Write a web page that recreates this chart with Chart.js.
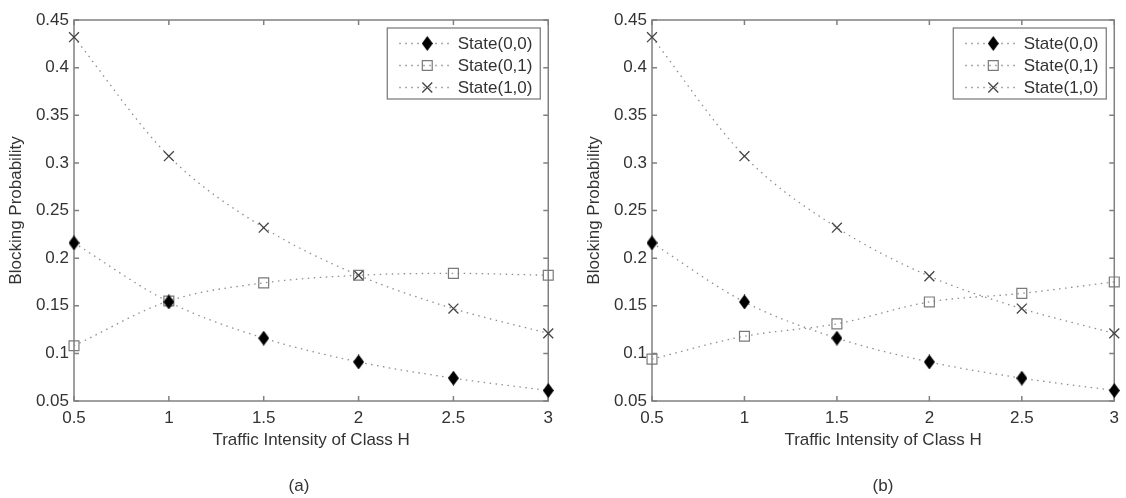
<!DOCTYPE html>
<html>
<head>
<meta charset="utf-8">
<script src="https://cdn.jsdelivr.net/npm/chart.js@4.4.1/dist/chart.umd.min.js"></script>
<style>
  html, body { margin: 0; padding: 0; background: #ffffff; }
  body { width: 1126px; height: 498px; position: relative; overflow: hidden; font-family: "Liberation Sans", Arial, sans-serif; }
  .panel { position: absolute; top: 0; }
  .cap { position: absolute; width: 100px; text-align: center; font-size: 17px; line-height: 20px; color: #333; }
</style>
</head>
<body>
<div class="panel" style="left:0px"><canvas id="chartA" width="560" height="498"></canvas></div>
<div class="panel" style="left:560px"><canvas id="chartB" width="566" height="498"></canvas></div>
<div class="cap" style="left:249px; top:476px;">(a)</div>
<div class="cap" style="left:833px; top:476px;">(b)</div>
<script>
// ---------- data ----------
const xValues = [0.5, 1, 1.5, 2, 2.5, 3];
const xTicks = [0.5, 1, 1.5, 2, 2.5, 3];
const xTickLabels = ['0.5', '1', '1.5', '2', '2.5', '3'];
const yTicks = [0.05, 0.1, 0.15, 0.2, 0.25, 0.3, 0.35, 0.4, 0.45];
const yTickLabels = ['0.05', '0.1', '0.15', '0.2', '0.25', '0.3', '0.35', '0.4', '0.45'];
const seriesNames = ['State(0,0)', 'State(0,1)', 'State(1,0)'];

const aState00 = [0.216, 0.154, 0.116, 0.091, 0.074, 0.061];
const aState01 = [0.108, 0.155, 0.174, 0.182, 0.184, 0.182];
const aState10 = [0.432, 0.307, 0.232, 0.182, 0.147, 0.121];

const bState00 = [0.216, 0.154, 0.116, 0.091, 0.074, 0.061];
const bState01 = [0.094, 0.118, 0.131, 0.154, 0.163, 0.175];
const bState10 = [0.432, 0.307, 0.232, 0.181, 0.147, 0.121];

const xTitle = 'Traffic Intensity of Class H';
const yTitle = 'Blocking Probability';

// ---------- styles ----------
const FONT = '"Liberation Sans", Arial, sans-serif';
const TEXT = '#333333';
const AXIS = '#808080';
const LINE = '#8f8f8f';

// tall filled diamond marker
function makeDiamond(w, h) {
  const c = document.createElement('canvas');
  c.width = w; c.height = h;
  const g = c.getContext('2d');
  g.fillStyle = '#000000';
  g.beginPath();
  g.moveTo(w / 2, 0);
  g.lineTo(w, h / 2);
  g.lineTo(w / 2, h);
  g.lineTo(0, h / 2);
  g.closePath();
  g.fill();
  return c;
}
const diamond = makeDiamond(11, 15);

function makeDatasets(s00, s01, s10) {
  const common = {
    borderColor: LINE, borderWidth: 1.3, borderDash: [1.5, 4.5],
    cubicInterpolationMode: 'monotone', fill: false, clip: false
  };
  return [
    Object.assign({}, common, {
      label: seriesNames[0], data: xValues.map((x, i) => ({ x: x, y: s00[i] })),
      pointStyle: diamond, pointRadius: 7, pointBackgroundColor: '#000', pointBorderColor: '#000', pointBorderWidth: 0
    }),
    Object.assign({}, common, {
      label: seriesNames[1], data: xValues.map((x, i) => ({ x: x, y: s01[i] })),
      pointStyle: 'rect', pointRadius: 7, pointBackgroundColor: 'rgba(0,0,0,0)', pointBorderColor: '#7a7a7a', pointBorderWidth: 1.2
    }),
    Object.assign({}, common, {
      label: seriesNames[2], data: xValues.map((x, i) => ({ x: x, y: s10[i] })),
      pointStyle: 'crossRot', pointRadius: 7, pointBackgroundColor: '#444', pointBorderColor: '#444', pointBorderWidth: 1.3
    })
  ];
}

// frame with inward ticks on all four sides
const framePlugin = {
  id: 'frame',
  beforeDatasetsDraw(chart) {
    const { ctx, chartArea: { left, right, top, bottom }, scales: { x, y } } = chart;
    ctx.save();
    ctx.strokeStyle = AXIS;
    ctx.lineWidth = 1.5;
    ctx.strokeRect(left, top, right - left, bottom - top);
    ctx.beginPath();
    const tl = 5;
    x.ticks.forEach(t => {
      const px = x.getPixelForValue(t.value);
      ctx.moveTo(px, bottom); ctx.lineTo(px, bottom - tl);
      ctx.moveTo(px, top); ctx.lineTo(px, top + tl);
    });
    y.ticks.forEach(t => {
      const py = y.getPixelForValue(t.value);
      ctx.moveTo(left, py); ctx.lineTo(left + tl, py);
      ctx.moveTo(right, py); ctx.lineTo(right - tl, py);
    });
    ctx.stroke();
    ctx.restore();
  }
};

// MATLAB-like boxed legend
const legendPlugin = {
  id: 'boxLegend',
  afterDraw(chart) {
    const { ctx, chartArea } = chart;
    const right = chartArea.right - 8;
    const top = chartArea.top + 8;
    const w = 153, h = 71;
    ctx.save();
    ctx.fillStyle = '#ffffff';
    ctx.fillRect(right - w, top, w, h);
    ctx.strokeStyle = AXIS;
    ctx.lineWidth = 1.3;
    ctx.strokeRect(right - w, top, w, h);
    chart.data.datasets.forEach((ds, i) => {
      const cy = top + 15.5 + i * 22;
      ctx.beginPath();
      ctx.setLineDash(ds.borderDash);
      ctx.strokeStyle = ds.borderColor;
      ctx.lineWidth = ds.borderWidth;
      ctx.moveTo(right - 141, cy);
      ctx.lineTo(right - 87, cy);
      ctx.stroke();
      ctx.setLineDash([]);
      ctx.fillStyle = ds.pointBackgroundColor;
      ctx.strokeStyle = ds.pointBorderColor;
      ctx.lineWidth = ds.pointBorderWidth;
      Chart.helpers.drawPoint(ctx, {
        pointStyle: ds.pointStyle, radius: ds.pointRadius, rotation: 0, borderWidth: ds.pointBorderWidth
      }, right - 113, cy);
      ctx.fillStyle = TEXT;
      ctx.font = '17px ' + FONT;
      ctx.textAlign = 'left';
      ctx.textBaseline = 'middle';
      ctx.fillText(ds.label, right - 82.5, cy + 1);
    });
    ctx.restore();
  }
};

function makeChart(id, datasets, padLeft, padRight) {
  return new Chart(document.getElementById(id), {
    type: 'line',
    data: { datasets: datasets },
    options: {
      responsive: false,
      animation: false,
      devicePixelRatio: 1,
      layout: { padding: { left: padLeft, right: padRight, top: 20, bottom: 45.8 } },
      plugins: { legend: { display: false }, tooltip: { enabled: false } },
      scales: {
        x: {
          type: 'linear', min: 0.5, max: 3,
          afterBuildTicks: s => { s.ticks = xTicks.map(v => ({ value: v })); },
          afterFit: s => { s.height = 51.2; },
          grid: { display: false, drawTicks: false },
          border: { display: false },
          ticks: {
            padding: 7, color: TEXT, font: { family: FONT, size: 17 }, maxRotation: 0, autoSkip: false,
            callback: (v, i) => xTickLabels[i]
          },
          title: { display: true, text: xTitle, color: TEXT, font: { family: FONT, size: 17 }, padding: { top: 0, bottom: 2 } }
        },
        y: {
          type: 'linear', min: 0.05, max: 0.45,
          afterBuildTicks: s => { s.ticks = yTicks.map(v => ({ value: v })); },
          afterFit: s => { s.width = 74; },
          grid: { display: false, drawTicks: false },
          border: { display: false },
          ticks: {
            padding: 5, color: TEXT, font: { family: FONT, size: 17 }, autoSkip: false,
            callback: (v, i) => yTickLabels[i]
          },
          title: { display: true, text: yTitle, color: TEXT, font: { family: FONT, size: 17 }, padding: { top: 6, bottom: 0 } }
        }
      }
    },
    plugins: [framePlugin, legendPlugin]
  });
}

makeChart('chartA', makeDatasets(aState00, aState01, aState10), 0, 11);
makeChart('chartB', makeDatasets(bState00, bState01, bState10), 18, 5);
</script>
</body>
</html>
